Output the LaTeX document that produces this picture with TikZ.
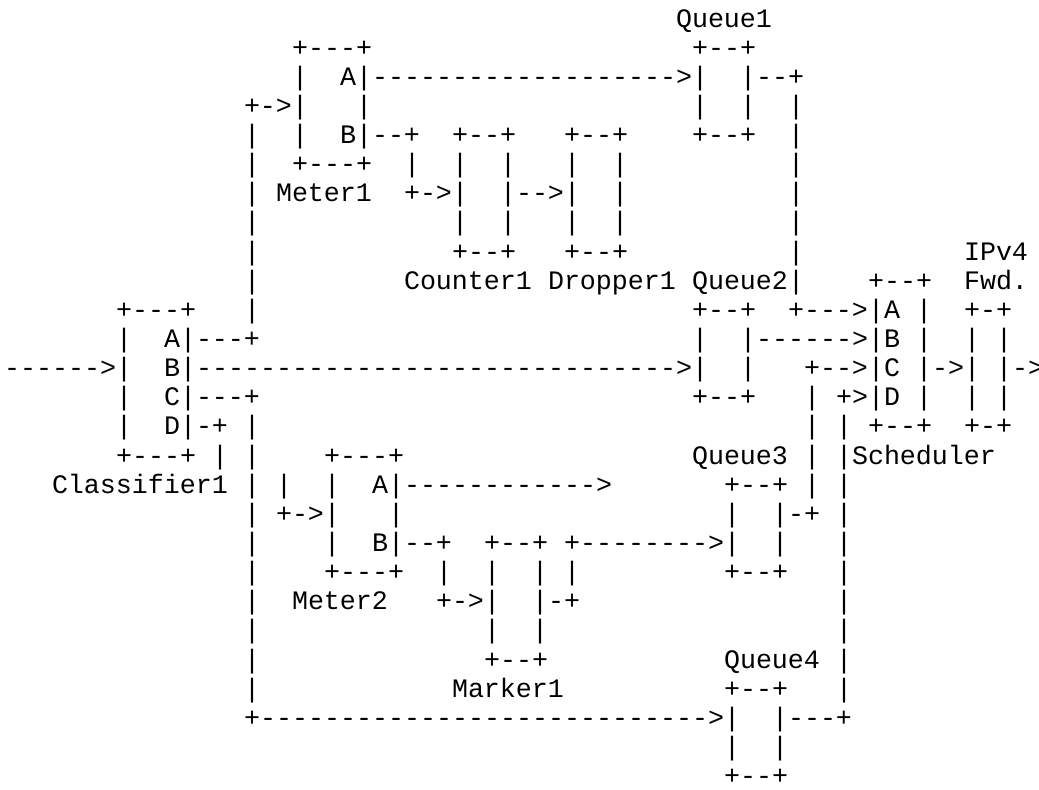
\documentclass[tikz,border=0pt]{standalone}
\usepackage{fontspec}
\setmonofont{Liberation Mono}
\usepackage{tikz}
\tikzset{chr/.style={anchor=base west, inner sep=0pt, outer sep=0pt, font=\ttfamily\fontsize{13.33}{16}\selectfont}}

\begin{document}
\begin{tikzpicture}[x=8pt, y=-14.57pt]
	\useasboundingbox (-2pt, 13.5pt) rectangle (517.5pt, -381pt);
	% boxes: name/left/top/right/bottom
	\foreach \n/\xl/\yt/\xr/\yb in {meter1/18/1/22/5, counter1/28/4/31/8, dropper1/35/4/38/8, queue1/43/1/46/4, queue2/43/10/46/13, queue3/45/16/48/19, queue4/45/23/48/26, classifier1/7/10/11/15, scheduler/54/9/57/14, fwd/60/10/62/14, meter2/20/15/24/19, marker1/30/18/33/22} {
		\node[chr] (\n-nw) at (\xl, \yt) {+};
		\node[chr] (\n-ne) at (\xr, \yt) {+};
		\node[chr] (\n-sw) at (\xl, \yb) {+};
		\node[chr] (\n-se) at (\xr, \yb) {+};
		\pgfmathtruncatemacro\xa{\xl+1}
		\pgfmathtruncatemacro\xb{\xr-1}
		\pgfmathtruncatemacro\ya{\yt+1}
		\pgfmathtruncatemacro\yc{\yb-1}
		\foreach \x in {\xa,...,\xb} {
			\node[chr] (\n-t\x) at (\x, \yt) {-};
			\node[chr] (\n-b\x) at (\x, \yb) {-};
		}
		\foreach \y in {\ya,...,\yc} {
			\node[chr] (\n-l\y) at (\xl, \y) {|};
			\node[chr] (\n-r\y) at (\xr, \y) {|};
		}
	}
	% connector runs
	\foreach \y/\xa/\xb in {2/23/41, 11/47/52, 12/0/5, 12/12/41, 16/25/36, 18/36/43, 24/16/43}
		\foreach \x in {\xa,...,\xb}
			\node[chr] (h\y-\x) at (\x, \y) {-};
	\foreach \x/\ya/\yb in {15/4/10, 15/14/23, 49/3/9, 50/13/16, 52/14/23, 13/15/15, 17/16/16, 25/5/5, 27/19/19, 35/19/19}
		\foreach \y in {\ya,...,\yb}
			\node[chr] (v\x-\y) at (\x, \y) {|};
	% labels, ports, bends and heads
	\foreach \x/\y/\txt in {42/0/Queue1, 21/2/A, 42/2/>, 47/2/--+, 15/3/+->, 21/4/B, 23/4/--+, 17/6/Meter1, 25/6/+->, 32/6/-->, 60/8/IPv4, 25/9/Counter1, 34/9/Dropper1, 43/9/Queue2, 60/9/Fwd., 49/10/+--->, 55/10/A, 10/11/A, 12/11/---+, 53/11/>, 55/11/B, 6/12/>, 10/12/B, 42/12/>, 50/12/+-->, 55/12/C, 58/12/->, 63/12/->, 10/13/C, 12/13/---+, 52/13/+>, 55/13/D, 10/14/D, 12/14/-+, 43/15/Queue3, 53/15/Scheduler, 3/16/Classifier1, 23/16/A, 37/16/>, 17/17/+->, 49/17/-+, 23/18/B, 25/18/--+, 35/18/+, 44/18/>, 18/20/Meter2, 27/20/+->, 34/20/-+, 45/22/Queue4, 28/23/Marker1, 15/24/+, 44/24/>, 49/24/---+}
		\node[chr] (t\x-\y) at (\x, \y) {\txt};
\end{tikzpicture}
\end{document}
